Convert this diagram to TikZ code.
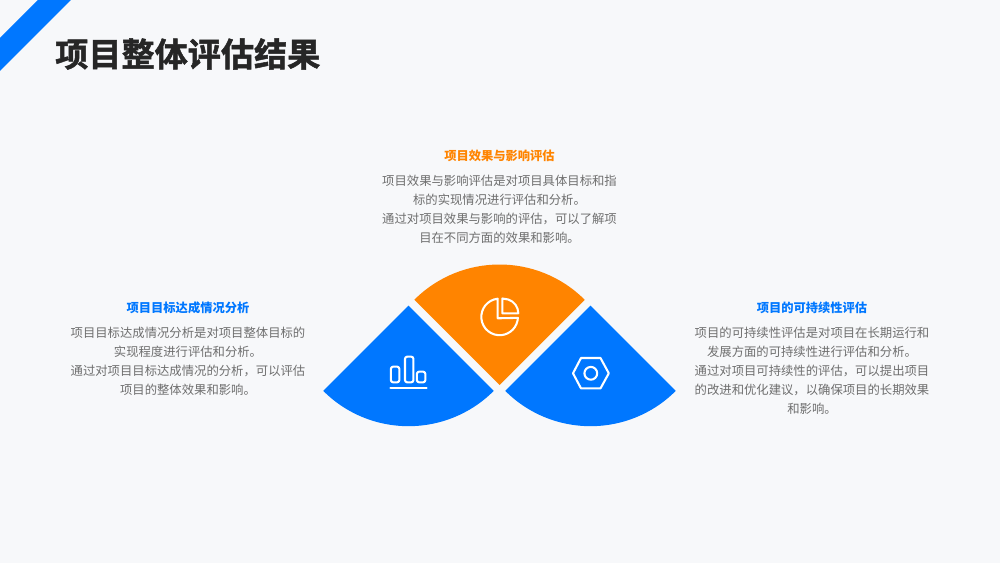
\documentclass[tikz,border=0pt]{standalone}
\usepackage{fontspec}
\newfontfamily\cjk{Noto Sans CJK SC}
\newfontfamily\cjktitle[FakeBold=1.5]{Noto Sans CJK SC Bold}
\definecolor{bgc}{HTML}{F7F8FA}
\definecolor{bluec}{HTML}{0077FF}
\definecolor{orangec}{HTML}{FF8400}
\definecolor{titlec}{HTML}{262626}
\definecolor{bodyc}{HTML}{6E6E6E}
\newlength{\pxu}\setlength{\pxu}{0.75pt}
\tikzset{
  x=0.75pt,y=-0.75pt,
  titletext/.style={anchor=west,inner sep=0pt,text=titlec,font=\cjktitle\fontsize{24.85}{30}\selectfont},
  headtext/.style={anchor=center,inner sep=0pt,font=\cjk\bfseries\fontsize{9.2}{12}\selectfont},
  bodytext/.style={anchor=center,inner sep=0pt,align=center,text=bodyc,font=\cjk\fontsize{9.26}{14.2}\selectfont},
  iconline/.style={draw=white,line width=1.55pt,line join=round,line cap=round},
}
\begin{document}
\begin{tikzpicture}
\useasboundingbox (0,0) rectangle (1000,563);
\fill[bgc] (0,0) rectangle (1000,563);
% corner band
\fill[bluec] (38,0) -- (71,0) -- (0,71) -- (0,38) -- cycle;
% title
\node[titletext] (title) at (55,54) {项目整体评估结果};
% sectors
\fill[orangec] (499.5,385) -- (414.3,299.8) arc[start angle=135,end angle=45,radius=120.5*\pxu] -- cycle;
\fill[bluec] (408.5,305.7) -- (323.3,390.9) arc[start angle=225,end angle=315,radius=120.5*\pxu] -- cycle;
\fill[bluec] (590.5,305.7) -- (505.3,390.9) arc[start angle=225,end angle=315,radius=120.5*\pxu] -- cycle;
% pie icon
\draw[iconline] (497.7,298.7) arc[start angle=96,end angle=357,radius=18.3*\pxu] -- (497.7,318.3) -- cycle;
\draw[iconline] (502.3,298.5) -- (502.3,313.3) -- (518.3,313.3) arc[start angle=0,end angle=72,radius=14.5*\pxu] -- cycle;
% bars icon
\draw[iconline,rounded corners=1.6pt] (390.9,366.7) rectangle (399.3,382.3);
\draw[iconline,rounded corners=1.6pt] (405,356.7) rectangle (413.4,382.3);
\draw[iconline,rounded corners=1.6pt] (416.9,371.7) rectangle (425.3,382.3);
\draw[iconline] (390.5,387.7) -- (426.5,387.7);
% nut icon
\draw[iconline] (573,373.3) -- (581,358) -- (600.5,358) -- (608.8,373.3) -- (600.5,388.4) -- (581,388.4) -- cycle;
\draw[iconline] (590.8,373.3) circle[radius=6.4*\pxu];
% texts
\node[headtext,text=orangec] (h2) at (499.5,155.5) {项目效果与影响评估};
\node[bodytext] (b2) at (499.5,209) {项目效果与影响评估是对项目具体目标和指\\标的实现情况进行评估和分析。\\通过对项目效果与影响的评估，可以了解项\\目在不同方面的效果和影响。};
\node[headtext,text=bluec] (h1) at (188,307.5) {项目目标达成情况分析};
\node[bodytext] (b1) at (188,361) {项目目标达成情况分析是对项目整体目标的\\实现程度进行评估和分析。\\通过对项目目标达成情况的分析，可以评估\\项目的整体效果和影响。};
\node[headtext,text=bluec] (h3) at (812,307.5) {项目的可持续性评估};
\node[bodytext] (b3) at (812,370.5) {项目的可持续性评估是对项目在长期运行和\\发展方面的可持续性进行评估和分析。\\通过对项目可持续性的评估，可以提出项目\\的改进和优化建议，以确保项目的长期效果\\和影响。};
\end{tikzpicture}
\end{document}
